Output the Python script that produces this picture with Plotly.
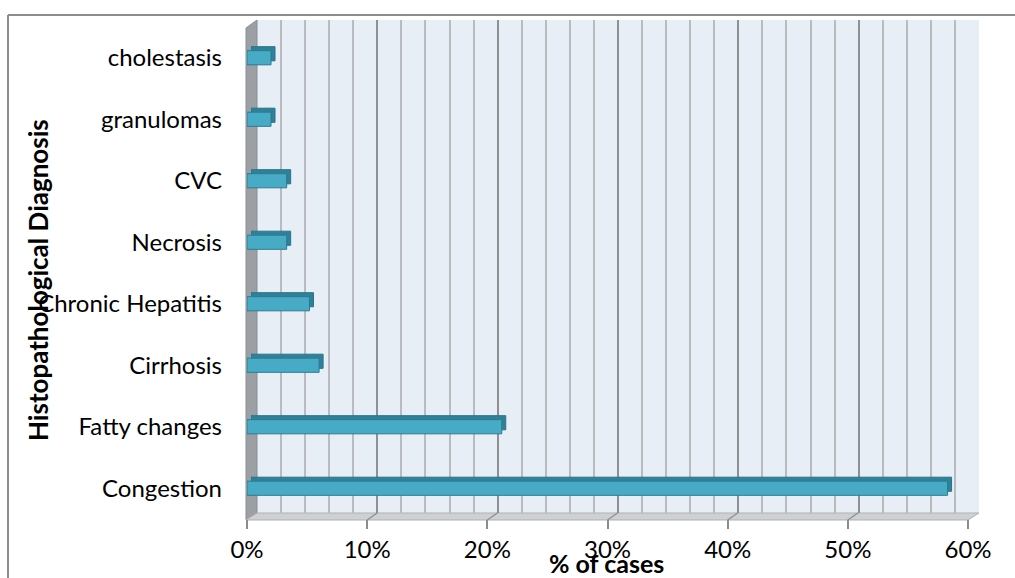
import plotly.graph_objects as go

categories = ["Congestion", "Fatty changes", "Cirrhosis", "Chronic Hepatitis",
              "Necrosis", "CVC", "granulomas", "cholestasis"]
values = [58.3, 21.2, 6.0, 5.2, 3.3, 3.3, 2.0, 2.0]
x_ticks = [0, 10, 20, 30, 40, 50, 60]
x_tick_labels = ["0%", "10%", "20%", "30%", "40%", "50%", "60%"]

W, H = 1015, 578
FONT = "Lato"


def px(x):
    return x / W


def py(y):
    return 1 - y / H


fig = go.Figure()

# shadow (extrusion) bars
fig.add_trace(go.Bar(
    y=categories, x=values, orientation="h", xaxis="x2", yaxis="y2",
    marker=dict(color="#2f8199", line=dict(color="#28748a", width=1)),
    hoverinfo="skip", showlegend=False))

# front bars
fig.add_trace(go.Bar(
    y=categories, x=values, orientation="h", xaxis="x3", yaxis="y3",
    marker=dict(color="#48abc6", line=dict(color="#2b7b90", width=1)),
    showlegend=False))

fig.add_trace(go.Scatter(x=[], y=[], xaxis="x", yaxis="y", showlegend=False))

rng = [0, 60]
shapes = []
# outer border
shapes.append(dict(type="line", xref="paper", yref="paper",
                   x0=px(8), x1=px(1030), y0=py(15), y1=py(15),
                   line=dict(color="#8c8c8c", width=2)))
shapes.append(dict(type="line", xref="paper", yref="paper",
                   x0=px(8), x1=px(8), y0=py(15), y1=py(600),
                   line=dict(color="#8c8c8c", width=2)))
# back wall
shapes.append(dict(type="rect", xref="paper", yref="paper", layer="below",
                   x0=px(257), x1=px(979), y0=py(513), y1=py(20),
                   fillcolor="#e7eef5", line=dict(width=0)))
# side wall
shapes.append(dict(type="path", xref="paper", yref="paper", layer="below",
                   path=f"M {px(246)} {py(28)} L {px(257)} {py(20)} L {px(257)} {py(513)} L {px(246)} {py(520)} Z",
                   fillcolor="#9c9fa4", line=dict(color="#8a8d92", width=1)))
# floor
shapes.append(dict(type="path", xref="paper", yref="paper", layer="below",
                   path=f"M {px(246)} {py(520)} L {px(257)} {py(513)} L {px(979)} {py(513)} L {px(968)} {py(520)} Z",
                   fillcolor="#cfd0d2", line=dict(color="#b0b1b3", width=1)))
# slanted lines on floor at major ticks
for t in x_ticks[1:-1]:
    fx = 247 + (968 - 247) * t / 60
    shapes.append(dict(type="line", xref="paper", yref="paper",
                       x0=px(fx), y0=py(520), x1=px(fx + 10), y1=py(513),
                       line=dict(color="#8f9093", width=1.5)))

fig.update_layout(
    width=W, height=H,
    margin=dict(l=0, r=0, t=0, b=0, pad=0, autoexpand=False),
    paper_bgcolor="white", plot_bgcolor="rgba(0,0,0,0)",
    bargap=0.77,
    font=dict(family=FONT, size=24, color="#000000"),
    shapes=shapes,
    xaxis=dict(domain=[px(257), px(979)], range=rng, anchor="y",
               showgrid=True, gridcolor="#8e9093", gridwidth=2, dtick=10,
               minor=dict(dtick=2, showgrid=True, gridcolor="#b9bbbe", gridwidth=2),
               showticklabels=False, ticks="", zeroline=False, showline=False,
               automargin=False),
    yaxis=dict(domain=[py(513), py(20)], anchor="x", showgrid=False,
               showticklabels=False, ticks="", zeroline=False, range=[0, 1],
               automargin=False),
    xaxis2=dict(domain=[px(251), px(972)], range=rng, anchor="y2",
                showgrid=False, showticklabels=False, zeroline=False,
                automargin=False),
    yaxis2=dict(domain=[py(515), py(23)], anchor="x2", showgrid=False,
                showticklabels=False, zeroline=False, automargin=False,
                categoryorder="array", categoryarray=categories),
    xaxis3=dict(domain=[px(247), px(968)], range=rng, anchor="y3",
                showgrid=False, zeroline=False, showline=False,
                tickvals=x_ticks, ticktext=x_tick_labels, automargin=False,
                ticks="outside", ticklen=9, tickwidth=2, tickcolor="#8c8c8c",
                tickfont=dict(family=FONT, size=24)),
    yaxis3=dict(domain=[py(519), py(27)], anchor="x3", showgrid=False,
                zeroline=False, showline=False, ticks="", automargin=False,
                categoryorder="array", categoryarray=categories,
                ticklabelstandoff=24,
                tickfont=dict(family=FONT, size=24)),
    annotations=[
        dict(text="<b>Histopathological Diagnosis</b>", xref="paper", yref="paper",
             x=px(38), y=py(280), xanchor="center", yanchor="middle",
             textangle=-90, showarrow=False,
             font=dict(family=FONT, size=26, color="#000")),
        dict(text="<b>% of cases</b>", xref="paper", yref="paper",
             x=px(606), y=py(563), xanchor="center", yanchor="middle",
             showarrow=False,
             font=dict(family=FONT, size=25, color="#000")),
    ],
)

fig.write_html("out.html")
